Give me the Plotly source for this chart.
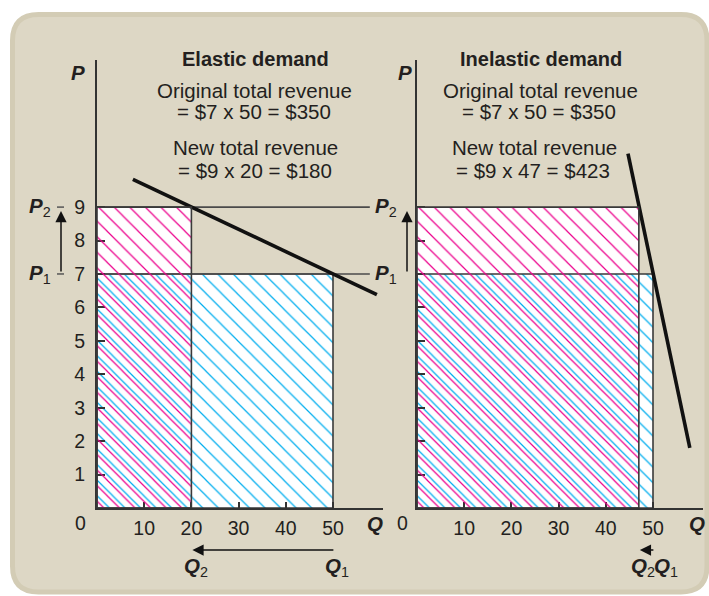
import plotly.graph_objects as go

# ---------------- data ----------------
prices = [7, 9]                 # P1, P2
elastic_q = [50, 20]            # Q1, Q2 (elastic)
inelastic_q = [50, 47]          # Q1, Q2 (inelastic)
elastic_curve_q = [7.6, 59.3]
elastic_curve_p = [9.83, 6.38]
inelastic_curve_q = [44.7, 57.8]
inelastic_curve_p = [10.6, 1.8]
p_ticks = [1, 2, 3, 4, 5, 6, 7, 8, 9]
q_ticks = [10, 20, 30, 40, 50]
guide_end_q = 57.8

# ---------------- layout constants (pixels) ----------------
W, H = 709, 596
X_RANGE = [0, 60.5]
Y_RANGE = [0, 13.4]
LX0, RX0 = 97, 417
SX = 4.72
YB, YT = 508, 60
SHIFT = 5.5

FONT = "Liberation Sans, Arial, Helvetica, sans-serif"
TXT = "#231f20"
MAG = "#ec008c"
CYA = "#00aeef"
EDGE = "#3a3a3a"
FS = 20.5
FT = 19.5


def px(x):
    return x / W


def py(y):
    return 1 - y / H


def rect(q, p):
    return [0, q, q, 0, 0], [0, 0, p, p, 0]


fig = go.Figure()

panels = [("x", "y", "x3", elastic_q), ("x2", "y2", "x4", inelastic_q)]
for xa, ya, xm, qs in panels:
    q1, q2 = qs
    p1, p2 = prices
    mx, my = rect(q2, p2)
    fig.add_trace(go.Scatter(x=mx, y=my, xaxis=xa, yaxis=ya, mode="lines",
                             fill="toself", fillcolor="white",
                             line=dict(width=0), hoverinfo="skip", showlegend=False))
    cx, cy = rect(q1, p1)
    fig.add_trace(go.Scatter(x=cx, y=cy, xaxis=xa, yaxis=ya, mode="lines",
                             fill="toself", fillcolor="white",
                             fillpattern=dict(shape="\\", fgcolor=CYA, bgcolor="white",
                                              size=11, solidity=0.11, fillmode="replace"),
                             line=dict(color=EDGE, width=1.6), hoverinfo="skip", showlegend=False))
    fig.add_trace(go.Scatter(x=mx, y=my, xaxis=xm, yaxis=ya, mode="lines",
                             fill="toself", fillcolor="rgba(0,0,0,0)",
                             fillpattern=dict(shape="\\", fgcolor=MAG, bgcolor="rgba(0,0,0,0)",
                                              size=11, solidity=0.11, fillmode="replace"),
                             line=dict(color=EDGE, width=1.6), hoverinfo="skip", showlegend=False))

for p in prices:
    fig.add_trace(go.Scatter(x=[0, guide_end_q], y=[p, p], xaxis="x", yaxis="y", mode="lines",
                             line=dict(color="#4a4a4a", width=1.6), hoverinfo="skip", showlegend=False))

fig.add_trace(go.Scatter(x=elastic_curve_q, y=elastic_curve_p, xaxis="x", yaxis="y", mode="lines",
                         line=dict(color="#111111", width=3.6), hoverinfo="skip", showlegend=False))
fig.add_trace(go.Scatter(x=inelastic_curve_q, y=inelastic_curve_p, xaxis="x2", yaxis="y2", mode="lines",
                         line=dict(color="#111111", width=3.6), hoverinfo="skip", showlegend=False))

# ---------------- axes ----------------
ydom = [py(YB), py(YT)]
xdomL = [px(LX0), px(LX0 + X_RANGE[1] * SX)]
xdomR = [px(RX0), px(RX0 + X_RANGE[1] * SX)]
sh = SHIFT / SX

common_x = dict(range=X_RANGE, showgrid=False, zeroline=False, showline=True,
                linecolor="#333333", linewidth=1.8, ticks="inside", ticklen=6,
                tickwidth=1.5, tickcolor="#333333", tickvals=q_ticks,
                ticktext=[str(v) for v in q_ticks], ticklabelstandoff=2,
                tickfont=dict(family=FONT, size=FT, color=TXT), fixedrange=True)
common_y = dict(range=Y_RANGE, domain=ydom, showgrid=False, zeroline=False, showline=True,
                linecolor="#333333", linewidth=1.8, ticks="inside", ticklen=8,
                tickwidth=1.5, tickcolor="#333333", tickvals=p_ticks,
                ticktext=[str(v) for v in p_ticks], ticklabelstandoff=6,
                tickfont=dict(family=FONT, size=FT, color=TXT), fixedrange=True)

hidden = dict(visible=False, showgrid=False, zeroline=False, fixedrange=True)

fig.update_layout(
    width=W, height=H,
    margin=dict(l=0, r=0, t=0, b=0),
    paper_bgcolor="white", plot_bgcolor="rgba(0,0,0,0)",
    showlegend=False,
    xaxis=dict(common_x, domain=xdomL, anchor="y"),
    yaxis=dict(common_y, anchor="x"),
    xaxis2=dict(common_x, domain=xdomR, anchor="y2"),
    yaxis2=dict(common_y, anchor="x2", showticklabels=False),
    xaxis3=dict(hidden, domain=[xdomL[0] - px(SHIFT), xdomL[1] - px(SHIFT)],
                range=[X_RANGE[0] - sh, X_RANGE[1] - sh], anchor="y"),
    xaxis4=dict(hidden, domain=[xdomR[0] - px(SHIFT), xdomR[1] - px(SHIFT)],
                range=[X_RANGE[0] - sh, X_RANGE[1] - sh], anchor="y2"),
)


def rrect_path(x0, y0, x1, y1, r):
    pts = [
        ("M", [(x0 + r, y0)]), ("L", [(x1 - r, y0)]), ("Q", [(x1, y0), (x1, y0 + r)]),
        ("L", [(x1, y1 - r)]), ("Q", [(x1, y1), (x1 - r, y1)]),
        ("L", [(x0 + r, y1)]), ("Q", [(x0, y1), (x0, y1 - r)]),
        ("L", [(x0, y0 + r)]), ("Q", [(x0, y0), (x0 + r, y0)]),
    ]
    s = ""
    for cmd, ps in pts:
        s += cmd + " ".join(f"{px(a):.5f},{py(b):.5f}" for a, b in ps) + " "
    return s + "Z"


fig.add_shape(type="path", path=rrect_path(12.5, 14.5, 707, 592, 26), xref="paper", yref="paper",
              fillcolor="#ddd7c5", line=dict(color="#d3ccb5", width=5), layer="below")

for p in prices:
    fig.add_shape(type="line", xref="paper", yref="y", x0=px(57), x1=px(64), y0=p, y1=p,
                  line=dict(color="#555555", width=1.5))


def note(text, x, y, xref="paper", yref="paper", size=FS, xanchor="center", yanchor="middle", xshift=0):
    fig.add_annotation(text=text, x=x, y=y, xref=xref, yref=yref, showarrow=False,
                       xanchor=xanchor, yanchor=yanchor, xshift=xshift,
                       font=dict(family=FONT, size=size, color=TXT))


p1, p2 = prices
lines_left = [
    ("<b>Elastic demand</b>", 255, 59),
    ("Original total revenue", 254, 91),
    (f"= ${p1} x {elastic_q[0]} = ${p1 * elastic_q[0]}", 254, 112),
    ("New total revenue", 255, 148),
    (f"= ${p2} x {elastic_q[1]} = ${p2 * elastic_q[1]}", 255, 170),
]
lines_right = [
    ("<b>Inelastic demand</b>", 541, 59),
    ("Original total revenue", 540, 91),
    (f"= ${p1} x {inelastic_q[0]} = ${p1 * inelastic_q[0]}", 539, 112),
    ("New total revenue", 534, 148),
    (f"= ${p2} x {inelastic_q[1]} = ${p2 * inelastic_q[1]}", 533, 170),
]
for t, x, y in lines_left + lines_right:
    note(t, px(x), py(y), size=(20 if t.startswith("<b>") else FS))

PL = "<i><b>P</b></i>"
QL = "<i><b>Q</b></i>"
note(PL, px(78), py(73))
note(PL, px(405), py(73))
note(QL, px(375), py(523))
note(QL, px(697), py(523))
note("0", px(80), py(523), size=FT)
note("0", px(402), py(523), size=FT)

for xl in (27, 373):
    note(PL + "<sub>2</sub>", px(xl), p2, yref="y", xanchor="left")
    note(PL + "<sub>1</sub>", px(xl), p1, yref="y", xanchor="left")

for xa_px in (61, 407):
    fig.add_annotation(x=px(xa_px), y=p2, xref="paper", yref="y", ax=0, ay=p1, axref="pixel",
                       ayref="y", showarrow=True, arrowhead=2, arrowsize=1.5, arrowwidth=1.5,
                       arrowcolor="#111111", standoff=4, startstandoff=1, text="")

QY = py(550)
fig.add_annotation(x=elastic_q[1], y=QY, xref="x", yref="paper", ax=elastic_q[0] + 0.4, ay=0,
                   axref="x", ayref="pixel", showarrow=True, arrowhead=2, arrowsize=1.5,
                   arrowwidth=1.5, arrowcolor="#111111", standoff=1, text="")
fig.add_annotation(x=inelastic_q[1], y=QY, xref="x2", yref="paper", ax=inelastic_q[0] + 0.4, ay=0,
                   axref="x2", ayref="pixel", showarrow=True, arrowhead=2, arrowsize=1.5,
                   arrowwidth=1.5, arrowcolor="#111111", standoff=1, text="")

QLY = py(567)
note(QL + "<sub>2</sub>", elastic_q[1], QLY, xref="x", xshift=5)
note(QL + "<sub>1</sub>", elastic_q[0], QLY, xref="x", xshift=4)
note(QL + "<sub>2</sub>", inelastic_q[1], QLY, xref="x2", xshift=4)
note(QL + "<sub>1</sub>", inelastic_q[0], QLY, xref="x2", xshift=13)

fig.write_html("out.html", config={"displayModeBar": False},
               post_script="document.body.style.margin='0px';")
